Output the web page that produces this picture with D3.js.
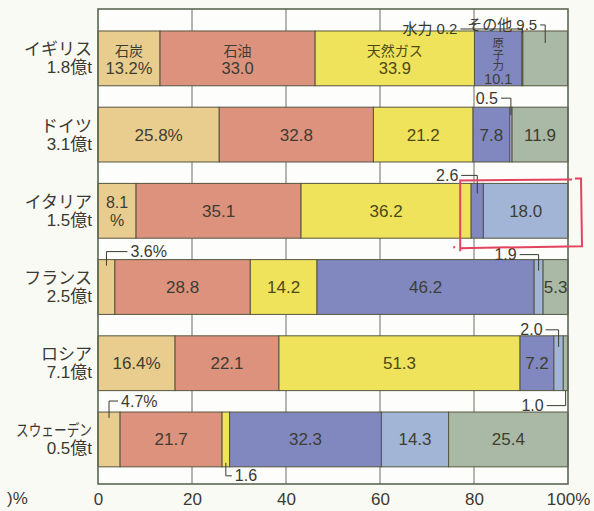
<!DOCTYPE html>
<html>
<head>
<meta charset="utf-8">
<script src="https://cdn.jsdelivr.net/npm/d3@7"></script>
<style>
  html, body { margin: 0; padding: 0; background: #fafaf5; }
  svg { display: block; }
  text { font-family: "Liberation Sans", "Noto Sans CJK JP", sans-serif; fill: #3a3a32; }
</style>
</head>
<body>
<svg id="chart" width="594" height="511"></svg>
<script>
// Primary energy supply mix by country (%, total in 億t)
const countries = ["イギリス", "ドイツ", "イタリア", "フランス", "ロシア", "スウェーデン"];
const totals = ["1.8億t", "3.1億t", "1.5億t", "2.5億t", "7.1億t", "0.5億t"];
const categories = ["石炭", "石油", "天然ガス", "原子力", "水力", "その他"];
const coal    = [13.2, 25.8,  8.1,  3.6, 16.4,  4.7];
const oil     = [33.0, 32.8, 35.1, 28.8, 22.1, 21.7];
const gas     = [33.9, 21.2, 36.2, 14.2, 51.3,  1.6];
const nuclear = [10.1,  7.8,  2.6, 46.2,  7.2, 32.3];
const hydro   = [ 0.2,  0.5, 18.0,  1.9,  2.0, 14.3];
const other   = [ 9.5, 11.9,  0.0,  5.3,  1.0, 25.4];
const xTicks = [0, 20, 40, 60, 80, 100];

const colors = ["#e9cd8f", "#dc927d", "#efe35c", "#8088bf", "#a2b5d6", "#a9b9a5"];

const series = [coal, oil, gas, nuclear, hydro, other];
const rows = countries.map((c, i) => {
  const r = { country: c, total: totals[i] };
  categories.forEach((k, j) => r[k] = series[j][i]);
  return r;
});

// Small shares are labelled outside the bar with a leader line
const callouts = [
  { country: "イギリス", cat: "水力",   text: "水力 0.2",   side: "top",    dir: "left",  arm: 62, dy: 2,  depth: 2,  size: 15 },
  { country: "イギリス", cat: "その他", text: "その他 9.5", side: "top",    dir: "left",  arm: 5,  dy: 6,  depth: 12, size: 15 },
  { country: "ドイツ",   cat: "水力",   text: "0.5",        side: "top",    dir: "left",  arm: 10, dy: 9,  depth: 8,  size: 16 },
  { country: "イタリア", cat: "原子力", text: "2.6",        side: "top",    dir: "left",  arm: 16, dy: 8,  depth: 10, size: 16 },
  { country: "フランス", cat: "石炭",   text: "3.6%",       side: "top",    dir: "right", arm: 21, dy: 8,  depth: 6,  size: 16 },
  { country: "フランス", cat: "水力",   text: "1.9",        side: "top",    dir: "left",  arm: 19, dy: 5,  depth: 11, size: 16 },
  { country: "ロシア",   cat: "水力",   text: "2.0",        side: "top",    dir: "left",  arm: 13, dy: 6,  depth: 11, size: 16 },
  { country: "ロシア",   cat: "その他", text: "1.0",        side: "bottom", dir: "left",  arm: 19, dy: 15, depth: 0,  size: 16 },
  { country: "スウェーデン", cat: "石炭", text: "4.7%",     side: "top",    dir: "right", arm: 9,  dy: 11, depth: 6,  size: 16 },
  { country: "スウェーデン", cat: "天然ガス", text: "1.6",  side: "bottom", dir: "right", arm: 6,  dy: 9,  depth: 4,  size: 16 }
];

const svg = d3.select("#chart");
const plot = { left: 98, right: 568, top: 9, bottom: 484 };

const x = d3.scaleLinear().domain([0, 100]).range([plot.left, plot.right]);
const y = d3.scaleBand().domain(countries).range([20.3, 477.5])
  .paddingInner(0.281).paddingOuter(0.14);

const stacked = d3.stack().keys(categories)(rows);

// plot frame
svg.append("rect")
  .attr("x", plot.left).attr("y", plot.top)
  .attr("width", plot.right - plot.left).attr("height", plot.bottom - plot.top)
  .attr("fill", "#fdfdfb");

// vertical grid
svg.append("g").selectAll("line")
  .data(xTicks.filter(d => d > 0 && d < 100))
  .join("line")
  .attr("x1", d => x(d)).attr("x2", d => x(d))
  .attr("y1", plot.top).attr("y2", plot.bottom)
  .attr("stroke", "#5a5f52").attr("stroke-width", 0.9);

// stacked bars
const layers = svg.append("g").selectAll("g")
  .data(stacked).join("g")
  .attr("fill", (d, i) => colors[i]);

layers.selectAll("rect")
  .data(d => d.filter(s => s[1] - s[0] > 0))
  .join("rect")
  .attr("x", d => x(d[0]))
  .attr("y", d => y(d.data.country))
  .attr("width", d => x(d[1]) - x(d[0]))
  .attr("height", y.bandwidth())
  .attr("stroke", "#55553f")
  .attr("stroke-width", 1);

svg.append("rect")
  .attr("x", plot.left).attr("y", plot.top)
  .attr("width", plot.right - plot.left).attr("height", plot.bottom - plot.top)
  .attr("fill", "none").attr("stroke", "#5c6656").attr("stroke-width", 1.6);

// country names and totals
const names = svg.append("g").attr("text-anchor", "end");
countries.forEach((c, i) => {
  const cy = y(c) + y.bandwidth() / 2;
  const t = names.append("text").attr("x", 92).attr("y", cy - 3)
    .attr("font-size", c.length > 5 ? 16 : 17).text(c);
  if (c.length > 5) t.attr("textLength", 76).attr("lengthAdjust", "spacingAndGlyphs");
  names.append("text").attr("x", 92).attr("y", cy + 15)
    .attr("font-size", 17).text(totals[i]);
});

// labels inside the segments
const isCallout = (c, k) => callouts.some(o => o.country === c && o.cat === k);
const inner = svg.append("g").attr("text-anchor", "middle");
stacked.forEach((layer, j) => {
  const k = layer.key;
  layer.forEach((s, i) => {
    const v = s[1] - s[0];
    const c = countries[i];
    if (v <= 0 || isCallout(c, k)) return;
    const cx = x((s[0] + s[1]) / 2);
    const cy = y(c) + y.bandwidth() / 2;
    const txt = v.toFixed(1);
    const fill = k === "天然ガス" ? "#4b4a14" : "#3d3d33";
    const add = (t, dy, size) => inner.append("text")
      .attr("x", cx).attr("y", cy + dy).attr("font-size", size)
      .style("fill", fill).text(t);
    if (i === 0 && k !== "原子力") {
      // first row carries the category names
      add(k, -2, 14);
      add(j === 0 ? txt + "%" : txt, 15.5, 16.5);
    } else if (i === 0 && k === "原子力") {
      // narrow segment: name set vertically
      Array.from(k).forEach((ch, n) => add(ch, -11 + n * 11.5, 11.5));
      add(txt, 26, 14.5);
    } else if (j === 0 && v < 10) {
      add(txt, -3, 16);
      add("%", 15, 16);
    } else {
      add(j === 0 ? txt + "%" : txt, 6, 17);
    }
  });
});

// leader-line callouts
const notes = svg.append("g");
callouts.forEach(o => {
  const j = categories.indexOf(o.cat);
  const s = stacked[j][countries.indexOf(o.country)];
  const sx = x((s[0] + s[1]) / 2);
  const top = y(o.country), bot = top + y.bandwidth();
  const ly = o.side === "top" ? top - o.dy : bot + o.dy;
  const ey = o.side === "top" ? top + o.depth : bot - o.depth;
  const ex = o.dir === "left" ? sx - o.arm : sx + o.arm;
  notes.append("path")
    .attr("d", `M${ex},${ly}H${sx}V${ey}`)
    .attr("fill", "none").attr("stroke", "#3a3a32").attr("stroke-width", 1);
  notes.append("text")
    .attr("x", o.dir === "left" ? ex - 3 : ex + 3)
    .attr("y", ly + 5.5)
    .attr("font-size", o.size)
    .attr("text-anchor", o.dir === "left" ? "end" : "start")
    .text(o.text);
});

// hand-drawn highlight around Italy's nuclear / hydro part
{
  const i = countries.indexOf("イタリア");
  const s = stacked[categories.indexOf("原子力")][i];
  const l = x(s[0]) - 12, r = x(100) + 14;
  const t = y("イタリア") - 4, b = t + y.bandwidth() + 12;
  svg.append("path")
    .attr("d", `M${l},${t + 1}L${r - 10},${t}M${r - 7},${t - 1}L${r},${t - 1}` +
               `M${r - 1},${t - 1}L${r},${b}L${l},${b + 2}M${l + 1},${t + 1}L${l + 1},${b + 5}` +
               `M${l - 6},${b + 1}L${l - 4},${b + 1}`)
    .attr("fill", "none").attr("stroke", "#e2435e").attr("stroke-width", 2);
}

// x axis
const axis = svg.append("g")
  .attr("transform", `translate(0,${plot.bottom})`)
  .call(d3.axisBottom(x).tickValues(xTicks).tickSize(0).tickPadding(9)
    .tickFormat(d => d === 100 ? "100%" : d));
axis.select(".domain").remove();
axis.selectAll("text")
  .attr("font-size", 17)
  .style("font-family", '"Liberation Sans", sans-serif')
  .style("fill", "#3a3a32");

svg.append("text").attr("x", 7).attr("y", 504).attr("font-size", 17).text(")%");
</script>
</body>
</html>
